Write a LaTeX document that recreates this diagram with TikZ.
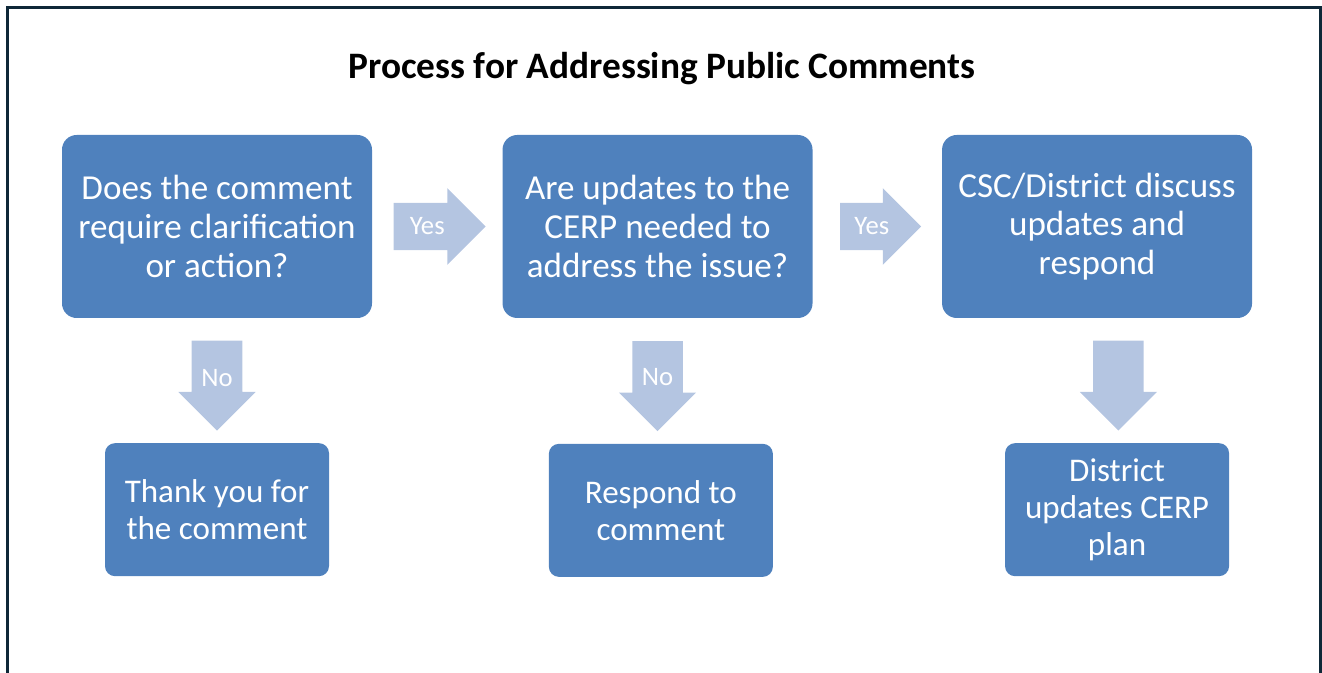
\documentclass[tikz,border=0pt]{standalone}
\usepackage{fontspec}
\setmainfont{Carlito}
\usepackage{tikz}
\usetikzlibrary{shapes, arrows, positioning}
\definecolor{boxblue}{RGB}{79,129,189}
\definecolor{arrowblue}{RGB}{180,197,225}
\definecolor{framenavy}{RGB}{14,40,56}
\tikzstyle{heading} = [inner sep=0pt, font=\fontsize{28pt}{33pt}\selectfont\bfseries]
\tikzstyle{question} = [rectangle, rounded corners=11pt, minimum width=232.5pt, minimum height=137.25pt, inner sep=0pt, align=center, fill=boxblue, text=white, font=\fontsize{26.3pt}{29pt}\selectfont]
\tikzstyle{outcome} = [rectangle, rounded corners=7.5pt, minimum width=168pt, minimum height=99.75pt, inner sep=0pt, align=center, fill=boxblue, text=white, font=\fontsize{24.8pt}{27.5pt}\selectfont]
\tikzstyle{rarrow} = [single arrow, fill=arrowblue, inner xsep=4pt, inner ysep=17.5pt, single arrow head extend=11pt, anchor=tail]
\tikzstyle{darrow} = [single arrow, fill=arrowblue, inner xsep=4pt, inner ysep=18.75pt, single arrow head extend=10pt, rotate=-90, minimum height=67.5pt, anchor=tail]
\tikzstyle{choice} = [inner sep=0pt, text=white, font=\fontsize{20pt}{23pt}\selectfont]

\begin{document}
\begin{tikzpicture}[x=0.75pt, y=-0.75pt]
\useasboundingbox (0,0) rectangle (1322,673);
\draw [framenavy, line width=2.25pt] (7.5,690) -- (7.5,8) -- (1320,8) -- (1320,690);

\node (title) [heading] at (662,69) {Process for Addressing Public Comments};

% top row
\node (ask) [question] at (217,226.5) {Does the comment\\require clarification\\or action?};
\node (update) [question, right=97.5pt of ask] {Are updates to the\\CERP needed to\\address the issue?};
\node (discuss) [question, right=96.75pt of update] {CSC/District discuss\\updates and\\respond};

% block arrows
\node (yes1) [rarrow, minimum height=69pt] at ([xshift=15.75pt]ask.east) {};
\node (yes2) [rarrow, minimum height=60.75pt] at ([xshift=20.25pt]update.east) {};
\node (no1) [darrow] at ([yshift=-16.5pt]ask.south) {};
\node (no2) [darrow] at ([yshift=-17pt]update.south) {};
\node (down3) [darrow] at ([xshift=16pt, yshift=-16.5pt]discuss.south) {};
\node (yeslbl1) [choice] at ([xshift=25.5pt]yes1.tail) {Yes};
\node (yeslbl2) [choice] at ([xshift=24pt]yes2.tail) {Yes};
\node (nolbl1) [choice] at ([yshift=-28.5pt]no1.tail) {No};
\node (nolbl2) [choice] at ([yshift=-27pt]no2.tail) {No};

% bottom row
\node (thanks) [outcome, below=9pt of no1.tip] {Thank you for\\the comment};
\node (respond) [outcome, below=9pt of no2.tip, xshift=2.5pt] {Respond to\\comment};
\node (plan) [outcome, below=9pt of down3.tip, xshift=-1pt] {District\\updates CERP\\plan};
\end{tikzpicture}
\end{document}
